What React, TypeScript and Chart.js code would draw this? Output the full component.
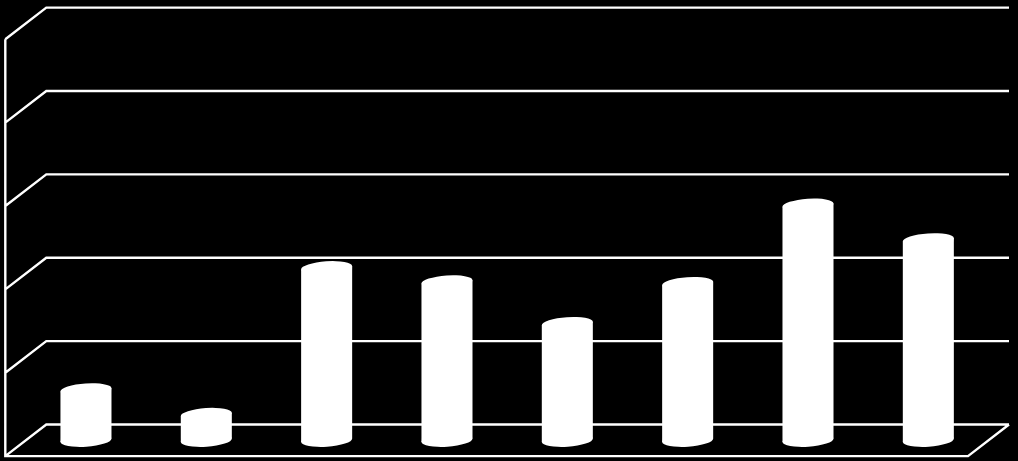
import React, { useEffect, useRef } from "react";
import { Chart, registerables } from "chart.js";

Chart.register(...registerables);

const categories = ["1", "2", "3", "4", "5", "6", "7", "8"];
const seriesValues = [6.05, 3.1, 20.7, 19.0, 14.0, 18.8, 28.2, 24.05];
const tickValues = [0, 10, 20, 30, 40, 50];

const WHITE = "#ffffff";
const DEPTH_X = 20.5;
const DEPTH_Y = 15.8;
const CAP_RY = 6.4;
const CAP_TILT = (-3.8 * Math.PI) / 180;

const depthPlugin = {
  id: "depthWalls",
  beforeDraw(chart: any) {
    const { ctx, width, height } = chart;
    ctx.save();
    ctx.fillStyle = "#000000";
    ctx.fillRect(0, 0, width, height);
    ctx.restore();
  },
  beforeDatasetsDraw(chart: any) {
    const { ctx, chartArea, scales } = chart;
    const y = scales.y;
    const backL = chartArea.left + DEPTH_X;
    const backR = chartArea.right + DEPTH_X;
    const frontL = chartArea.left - DEPTH_X;
    const frontR = chartArea.right - DEPTH_X;
    ctx.save();
    ctx.strokeStyle = WHITE;
    ctx.lineWidth = 2.4;
    ctx.lineJoin = "miter";
    ctx.beginPath();
    for (const v of tickValues) {
      const p = y.getPixelForValue(v);
      ctx.moveTo(frontL, p + DEPTH_Y);
      ctx.lineTo(backL, p - DEPTH_Y);
      ctx.lineTo(backR, p - DEPTH_Y);
    }
    const zero = y.getPixelForValue(0);
    const top = y.getPixelForValue(tickValues[tickValues.length - 1]);
    ctx.moveTo(frontL, top + DEPTH_Y);
    ctx.lineTo(frontL, zero + DEPTH_Y);
    ctx.lineTo(frontR, zero + DEPTH_Y);
    ctx.lineTo(backR, zero - DEPTH_Y);
    ctx.stroke();
    ctx.restore();
  },
  beforeDatasetDraw(chart: any, args: any) {
    const { ctx } = chart;
    const meta = args.meta;
    const colour = chart.data.datasets[args.index].backgroundColor;
    ctx.save();
    ctx.fillStyle = colour;
    for (const bar of meta.data) {
      const rx = bar.width / 2;
      const dx = rx * Math.cos(CAP_TILT);
      const dy = rx * Math.sin(CAP_TILT);
      ctx.beginPath();
      ctx.ellipse(bar.x, bar.y, rx, CAP_RY, CAP_TILT, 0, Math.PI * 2);
      ctx.ellipse(bar.x, bar.base, rx, CAP_RY, CAP_TILT, 0, Math.PI * 2);
      ctx.fill();
      ctx.beginPath();
      ctx.moveTo(bar.x - dx, bar.y - dy);
      ctx.lineTo(bar.x + dx, bar.y + dy);
      ctx.lineTo(bar.x + dx, bar.base + dy);
      ctx.lineTo(bar.x - dx, bar.base - dy);
      ctx.closePath();
      ctx.fill();
    }
    ctx.restore();
    return false;
  },
};

export default function App() {
  const ref = useRef<HTMLCanvasElement>(null);
  useEffect(() => {
    document.body.style.margin = "0";
    document.body.style.background = "#000";
    const chart = new Chart(ref.current!, {
      type: "bar",
      data: {
        labels: categories,
        datasets: [
          {
            data: seriesValues,
            backgroundColor: WHITE,
            barPercentage: 0.425,
            categoryPercentage: 1,
          },
        ],
      },
      options: {
        responsive: false,
        animation: false,
        layout: { padding: { left: 25.8, right: 29.5, top: 23.4, bottom: 20.7 } },
        plugins: { legend: { display: false }, tooltip: { enabled: false }, title: { display: false } },
        scales: {
          x: { display: false, grid: { display: false } },
          y: { display: false, min: 0, max: 50, grid: { display: false } },
        },
      },
      plugins: [depthPlugin],
    });
    return () => chart.destroy();
  }, []);
  return <canvas ref={ref} width={1018} height={461} style={{ display: "block" }} />;
}
